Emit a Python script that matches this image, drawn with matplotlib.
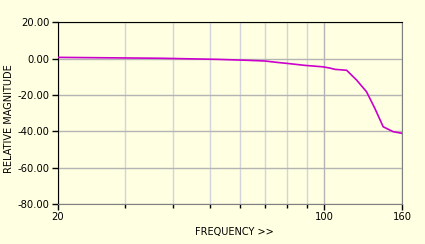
import matplotlib
matplotlib.use("Agg")
import matplotlib.pyplot as plt
from matplotlib.ticker import FixedLocator, NullFormatter, FixedFormatter

# frequency response
freq = [20, 37.4, 52.6, 62.6, 69.9, 74.7, 79.7, 83.8, 88.9, 99.2, 103.5,
        106.7, 114.5, 121.6, 129.1, 135.8, 142.8, 151.7, 160]
mag = [0.7, 0.2, -0.4, -0.9, -1.3, -2.0, -2.6, -3.1, -3.7, -4.5, -5.2,
       -5.9, -6.4, -11.8, -18.2, -27.4, -37.5, -40.2, -41.1]

yticks = [20, 0, -20, -40, -60, -80]
xmajor = [20, 100, 160]
xminor = [30, 40, 50, 60, 70, 80, 90]

bg = '#ffffe1'

fig = plt.figure(figsize=(4.25, 2.44), dpi=100, facecolor=bg)
ax = fig.add_axes([58/425, 40/244, 344/425, 181.7/244])
ax.set_facecolor(bg)

ax.set_xscale('log')
ax.set_xlim(20, 160)
ax.set_ylim(-80, 20)

ax.plot(freq, mag, color='#cc00cc', linewidth=1.2, zorder=3)

ax.xaxis.set_major_locator(FixedLocator(xmajor))
ax.xaxis.set_major_formatter(FixedFormatter([str(v) for v in xmajor]))
ax.xaxis.set_minor_locator(FixedLocator(xminor))
ax.xaxis.set_minor_formatter(NullFormatter())
ax.set_yticks(yticks)
ax.set_yticklabels(['%.2f' % v for v in yticks])

ax.grid(True, which='major', axis='y', color='#b4b4b4', linewidth=1)
ax.grid(True, which='major', axis='x', color='#b4b4b4', linewidth=1)
ax.grid(True, which='minor', axis='x', color='#d4d4dc', linewidth=1)

ax.tick_params(axis='both', which='both', direction='out', labelsize=7.2,
               colors='black', width=1)
ax.tick_params(axis='x', which='major', length=4, pad=2)
ax.tick_params(axis='x', which='minor', length=3)
ax.tick_params(axis='y', length=4, pad=2)

ax.spines['left'].set_color('black')
ax.spines['top'].set_color('black')
ax.spines['right'].set_color('#808080')
ax.spines['bottom'].set_color('#808080')

ax.set_xlabel('FREQUENCY >>', fontsize=7)
ax.set_ylabel('RELATIVE MAGNITUDE', fontsize=7)
ax.xaxis.set_label_coords(176/344, -23/181.7)
ax.yaxis.set_label_coords(-44/344, 0.468)

fig.savefig('out.png', dpi=100, facecolor=bg)
